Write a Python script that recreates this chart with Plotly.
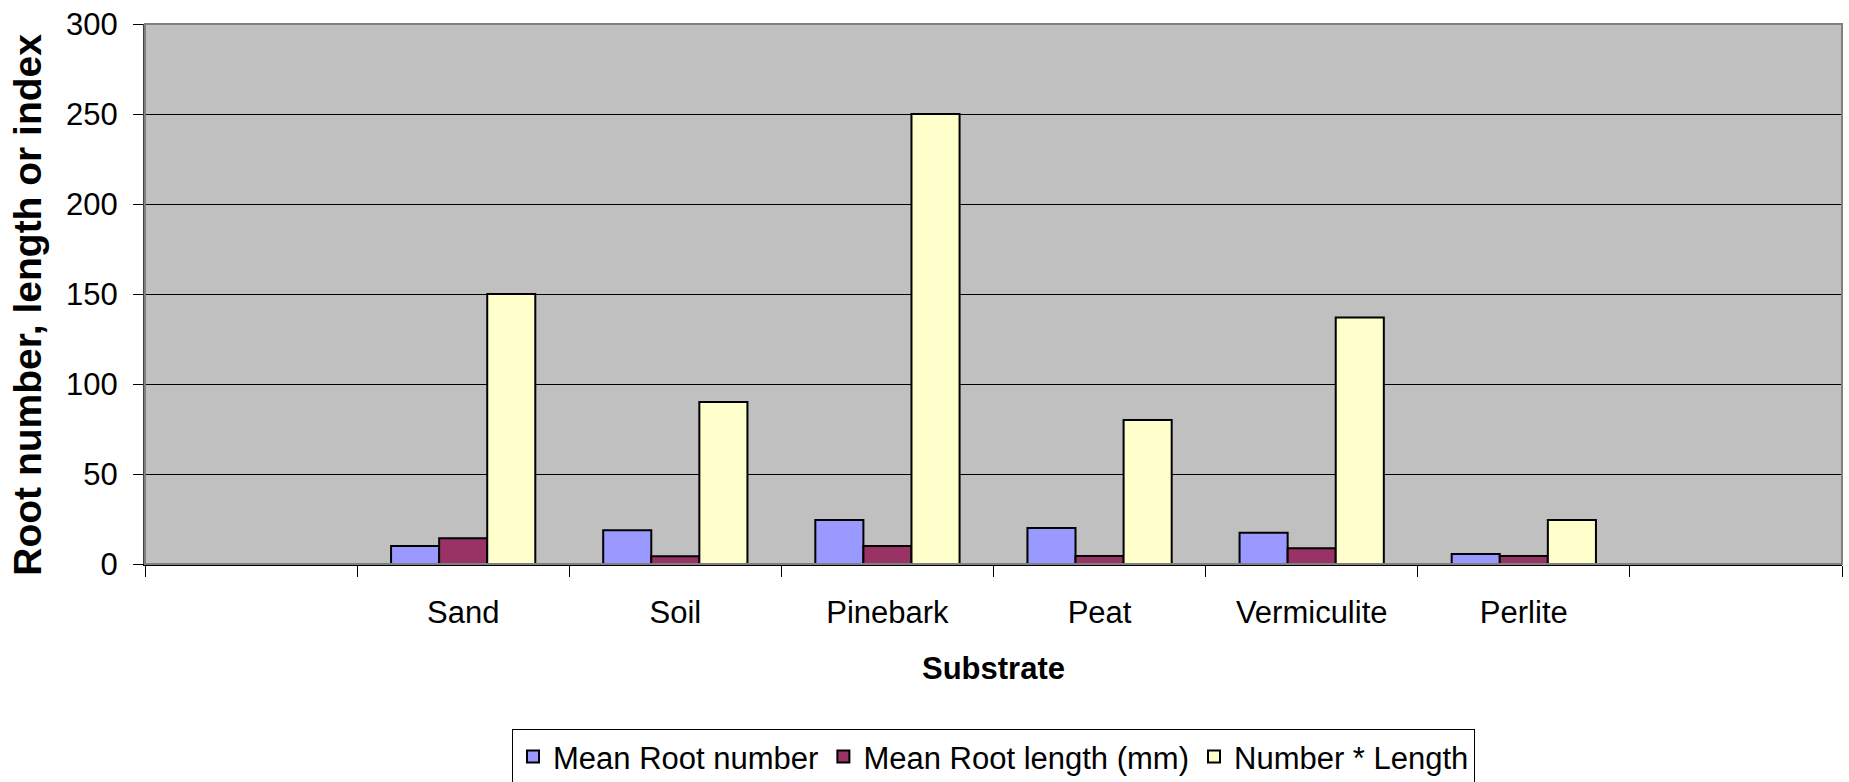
import plotly.graph_objects as go

# ---- data ----
categories = ["Sand", "Soil", "Pinebark", "Peat", "Vermiculite", "Perlite"]
axis_categories = [" ", "Sand", "Soil", "Pinebark", "Peat", "Vermiculite", "Perlite", "  "]
mean_root_number = [10, 18.7, 24.5, 20, 17.3, 5.6]
mean_root_length = [14.3, 4.3, 10, 4.5, 8.7, 4.5]
number_x_length = [150, 90, 250, 80, 137, 24.5]
series_names = ["Mean Root number", "Mean Root length (mm)", "Number * Length"]
y_ticks = [0, 50, 100, 150, 200, 250, 300]

FONT = "Liberation Sans, Arial, sans-serif"
colors = ["#9999FF", "#993366", "#FFFFCC"]

fig = go.Figure()
for name, vals, col in zip(series_names,
                           [mean_root_number, mean_root_length, number_x_length],
                           colors):
    fig.add_trace(go.Bar(
        x=categories, y=vals, name=name,
        marker=dict(color=col, line=dict(color="#000000", width=2)),
    ))

fig.update_layout(
    width=1849, height=782,
    margin=dict(l=145, r=7, t=24, b=218, autoexpand=False),
    paper_bgcolor="white",
    plot_bgcolor="#C0C0C0",
    barmode="group",
    bargap=0.32,
    bargroupgap=0,
    font=dict(family=FONT, color="black"),
    showlegend=True,
    legend=dict(
        orientation="h",
        x=0.5, xanchor="center",
        yref="container",
        y=0.068, yanchor="top",
        font=dict(family=FONT, size=31, color="black"),
        bordercolor="#000000", borderwidth=1,
        bgcolor="white",
        itemwidth=30,
        traceorder="normal",
    ),
    xaxis=dict(
        type="category",
        categoryorder="array",
        categoryarray=axis_categories,
        range=[-0.5, 7.5],
        tickson="boundaries",
        ticks="outside", ticklen=11, tickcolor="#000000", tickwidth=1,
        tickfont=dict(family=FONT, size=31, color="black"),
        ticklabelstandoff=20,
        showline=True, linecolor="#000000", linewidth=2,
        showgrid=False, zeroline=False,
        automargin=False,
    ),
    yaxis=dict(
        range=[0, 300],
        tickvals=y_ticks,
        ticks="outside", ticklen=10, tickcolor="#000000", tickwidth=1,
        tickfont=dict(family=FONT, size=31, color="black"),
        ticklabelstandoff=9,
        showline=True, linecolor="#404040", linewidth=2,
        showgrid=True, gridcolor="#000000", gridwidth=1,
        zeroline=False,
        automargin=False,
    ),
    shapes=[dict(type="rect", xref="paper", yref="paper", x0=0, x1=1, y0=0, y1=1,
                 line=dict(color="#808080", width=2), fillcolor="rgba(0,0,0,0)",
                 layer="above")],
    annotations=[
        dict(text="<b>Root number, length or index</b>", textangle=-90,
             xref="paper", yref="paper", x=-0.069, y=0.48,
             xanchor="center", yanchor="middle", showarrow=False,
             font=dict(family=FONT, size=39, color="black")),
        dict(text="<b>Substrate</b>",
             xref="paper", yref="paper", x=0.5, y=-0.193,
             xanchor="center", yanchor="middle", showarrow=False,
             font=dict(family=FONT, size=31, color="black")),
    ],
)

fig.write_html("out.html", config={"displayModeBar": False},
               post_script="document.body.style.margin='0';")
